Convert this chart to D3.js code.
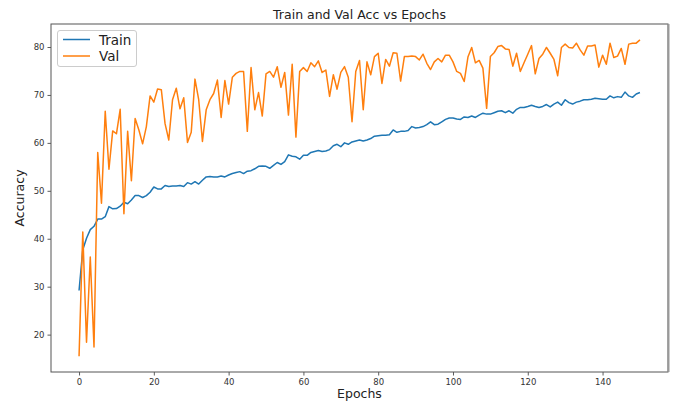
<!DOCTYPE html>
<html>
<head>
<meta charset="utf-8">
<script src="https://cdn.jsdelivr.net/npm/d3@7"></script>
<style>
  html, body { margin: 0; padding: 0; background: #fff; }
  svg { display: block; font-family: "DejaVu Sans", sans-serif; }
</style>
</head>
<body>
<svg id="chart" width="675" height="401"></svg>
<script>
// ---- data ----
const trainAcc = [
  29.2, 37.7, 40.1, 41.9, 42.6, 44.1, 44.1, 44.6, 46.7, 46.25,
  46.3, 46.8, 47.6, 47.3, 48.1, 49.0, 49.0, 48.6, 49.0, 49.7,
  50.8, 50.4, 50.4, 51.1, 50.9, 51.0, 51.0, 51.1, 50.9, 51.7,
  51.4, 51.9, 51.4, 52.2, 52.9, 53.0, 52.9, 52.9, 53.1, 52.9,
  53.3, 53.6, 53.8, 54.0, 53.6, 54.1, 54.2, 54.6, 55.1, 55.2,
  55.1, 54.7, 55.3, 55.9, 55.5, 56.1, 57.5, 57.2, 57.1, 56.6,
  57.4, 57.4, 58.0, 58.2, 58.4, 58.2, 58.3, 58.6, 59.4, 59.7,
  59.2, 60.0, 59.7, 60.2, 60.4, 60.6, 60.4, 60.6, 60.9, 61.4,
  61.5, 61.6, 61.6, 61.7, 62.7, 62.2, 62.4, 62.4, 62.6, 63.4,
  63.1, 63.2, 63.4, 63.8, 64.4, 63.8, 63.9, 64.4, 64.9, 65.2,
  65.2, 65.0, 64.9, 65.4, 65.3, 65.6, 65.3, 65.8, 66.2, 66.0,
  66.0, 66.3, 66.6, 66.7, 66.3, 66.7, 66.2, 67.0, 67.4, 67.4,
  67.6, 67.85, 67.6, 67.4, 67.6, 68.0, 67.5, 68.1, 68.5, 67.85,
  69.0, 68.4, 68.1, 68.5, 68.7, 69.0, 69.0, 69.1, 69.3, 69.2,
  69.1, 69.1, 69.8, 69.4, 69.65, 69.5, 70.6, 69.8, 69.5, 70.2,
  70.5
];
const valAcc = [
  15.5, 41.4, 18.4, 36.2, 17.4, 58.0, 47.4, 66.6, 54.5, 62.5,
  61.9, 67.0, 45.2, 62.4, 52.1, 65.1, 62.7, 59.8, 63.4, 69.8,
  68.5, 71.25, 71.1, 64.0, 60.6, 69.0, 71.4, 67.1, 69.4, 60.1,
  62.2, 73.3, 69.0, 60.3, 66.9, 69.0, 70.3, 73.1, 65.3, 73.0,
  68.1, 73.7, 74.5, 74.9, 74.9, 62.4, 75.7, 66.9, 70.5, 65.6,
  74.4, 74.9, 73.7, 75.9, 71.6, 74.7, 65.8, 76.4, 61.2, 74.9,
  75.7, 74.9, 76.7, 75.9, 77.1, 74.7, 75.2, 69.7, 74.2, 71.2,
  74.7, 75.9, 73.7, 64.4, 74.9, 77.2, 66.9, 76.9, 74.2, 78.0,
  78.7, 72.4, 77.4, 76.0, 78.8, 78.7, 72.9, 78.0, 78.0, 78.1,
  78.0, 77.3, 78.5, 76.6, 75.3, 76.9, 77.6, 76.9, 78.3, 78.3,
  76.9, 74.9, 74.5, 72.8, 77.9, 79.9, 76.7, 77.2, 75.6, 67.2,
  78.0, 78.8, 80.1, 80.3, 79.6, 79.5, 76.0, 78.7, 74.9, 76.7,
  78.5, 80.3, 74.4, 77.6, 78.5, 79.9, 78.7, 77.4, 74.0, 79.9,
  80.6, 79.9, 79.8, 80.8, 79.4, 78.3, 80.2, 80.2, 80.4, 75.8,
  78.3, 76.4, 80.8, 77.8, 78.1, 79.7, 76.4, 80.6, 80.8, 80.8,
  81.5
];
const seriesNames = ["Train", "Val"];
const xTicks = [0, 20, 40, 60, 80, 100, 120, 140];
const yTicks = [20, 30, 40, 50, 60, 70, 80];
const titleText = "Train and Val Acc vs Epochs";
const xLabel = "Epochs";
const yLabel = "Accuracy";

// ---- layout ----
const svg = d3.select("#chart");
const L = 51, R = 668, T = 24, B = 372;
const colors = ["#1f77b4", "#ff7f0e"];

const epochs = d3.range(trainAcc.length);
const xMin = 0, xMax = epochs.length - 1;
const xPad = (xMax - xMin) * 0.05;
const all = trainAcc.concat(valAcc);
const yMin = d3.min(all), yMax = d3.max(all);
const yPad = (yMax - yMin) * 0.05;

const x = d3.scaleLinear().domain([xMin - xPad, xMax + xPad]).range([L, R]);
const y = d3.scaleLinear().domain([yMin - yPad, yMax + yPad]).range([B, T]);

// axes
const xAxis = d3.axisBottom(x).tickValues(xTicks).tickSize(3.5).tickPadding(3).tickFormat(d3.format("d"));
const yAxis = d3.axisLeft(y).tickValues(yTicks).tickSize(3.5).tickPadding(3).tickFormat(d3.format("d"));

const gx = svg.append("g").attr("transform", `translate(0,${B})`).call(xAxis);
const gy = svg.append("g").attr("transform", `translate(${L},0)`).call(yAxis);
[gx, gy].forEach(g => {
  g.select(".domain").remove();
  g.selectAll(".tick line").attr("stroke", "#333").attr("stroke-width", 0.8);
  g.selectAll(".tick text").attr("fill", "#333").style("font-size", "8.5px")
    .style("font-family", "'DejaVu Sans', sans-serif");
});

// lines
const line = d3.line().x((d, i) => x(i)).y(d => y(d));
const clip = svg.append("clipPath").attr("id", "clip")
  .append("rect").attr("x", L).attr("y", T).attr("width", R - L).attr("height", B - T);
[trainAcc, valAcc].forEach((s, k) => {
  svg.append("path").datum(s)
    .attr("clip-path", "url(#clip)")
    .attr("fill", "none")
    .attr("stroke", colors[k])
    .attr("stroke-width", 1.5)
    .attr("stroke-linejoin", "round")
    .attr("d", line);
});

// frame
svg.append("rect").attr("x", L).attr("y", T).attr("width", R - L).attr("height", B - T)
  .attr("fill", "none").attr("stroke", "#555").attr("stroke-width", 1);
svg.append("line").attr("x1", R + 0.5).attr("x2", R + 0.5).attr("y1", T).attr("y2", B)
  .attr("stroke", "#999").attr("stroke-width", 2);

// title and labels
svg.append("text").attr("x", (L + R) / 2).attr("y", 19).attr("text-anchor", "middle")
  .style("font-size", "12.5px").attr("fill", "#222").text(titleText);
svg.append("text").attr("x", (L + R) / 2).attr("y", 398).attr("text-anchor", "middle")
  .style("font-size", "12.5px").attr("fill", "#222").text(xLabel);
svg.append("text").attr("transform", `translate(24,${(T + B) / 2}) rotate(-90)`)
  .attr("text-anchor", "middle").style("font-size", "12.5px").attr("fill", "#222").text(yLabel);

// legend
const lg = svg.append("g");
lg.append("rect").attr("x", 57.5).attr("y", 30.5).attr("width", 79).attr("height", 36)
  .attr("rx", 2.5).attr("fill", "#fff").attr("fill-opacity", 0.8)
  .attr("stroke", "#ccc").attr("stroke-width", 1);
seriesNames.forEach((n, i) => {
  const yy = 39.5 + i * 16.5;
  lg.append("line").attr("x1", 63).attr("x2", 90).attr("y1", yy).attr("y2", yy)
    .attr("stroke", colors[i]).attr("stroke-width", 1.5);
  lg.append("text").attr("x", 99).attr("y", yy + 5).style("font-size", "13.5px")
    .attr("fill", "#222").text(n);
});
</script>
</body>
</html>
